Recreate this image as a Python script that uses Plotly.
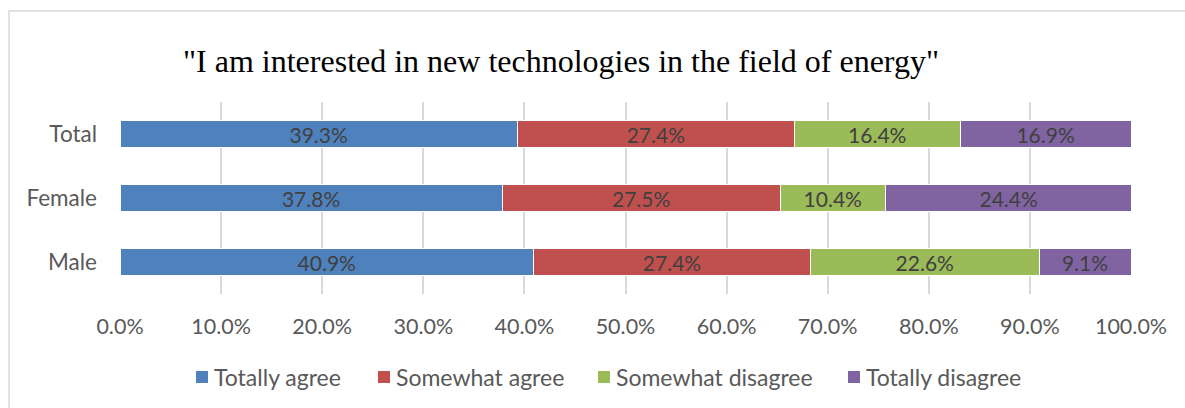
import plotly.graph_objects as go

# Survey responses by group (percent of respondents)
groups = ["Male", "Female", "Total"]
series_names = ["Totally agree", "Somewhat agree", "Somewhat disagree", "Totally disagree"]
totally_agree = [40.9, 37.8, 39.3]
somewhat_agree = [27.4, 27.5, 27.4]
somewhat_disagree = [22.6, 10.4, 16.4]
totally_disagree = [9.1, 24.4, 16.9]
tick_values = [0, 10, 20, 30, 40, 50, 60, 70, 80, 90, 100]

series_values = [totally_agree, somewhat_agree, somewhat_disagree, totally_disagree]
colors = ["#4F81BD", "#C0504D", "#9BBB59", "#8064A2"]

W, H = 1185, 408
L, R, T, B = 120, 54, 102, 114
plot_w = W - L - R
plot_h = H - T - B
FONT = "Lato, Open Sans, sans-serif"

fig = go.Figure()
for name, vals, col in zip(series_names, series_values, colors):
    fig.add_trace(go.Bar(
        y=groups, x=vals, name=name, orientation="h",
        marker=dict(color=col, line=dict(color="white", width=1)),
        width=0.41,
        text=[f"{v:.1f}%" for v in vals],
        textposition="inside", insidetextanchor="middle",
        textfont=dict(family=FONT, size=21, color="#404040"),
        constraintext="none",
        showlegend=False,
    ))

def px_x(p):
    return (p - L) / plot_w

def px_y(p):
    return (H - B - p) / plot_h

fig.update_layout(
    width=W, height=H,
    barmode="stack",
    margin=dict(l=L, r=R, t=T, b=B),
    paper_bgcolor="white", plot_bgcolor="white",
    title=dict(
        text='"I am interested in new technologies in the field of energy"',
        x=561 / W, xanchor="center", xref="container",
        y=1 - 61 / H, yanchor="middle", yref="container",
        font=dict(family="Liberation Serif, Times New Roman, serif", size=32, color="#000000"),
    ),
    xaxis=dict(
        range=[0, 100], tickvals=tick_values,
        ticktext=[f"{v:.1f}%" for v in tick_values],
        showgrid=True, gridcolor="#D9D9D9", gridwidth=1.5,
        zeroline=False, showline=False,
        tickfont=dict(family=FONT, size=21.5, color="#595959"),
        ticks="", ticklabelstandoff=17,
    ),
    yaxis=dict(
        range=[-0.5, 2.5], showgrid=False, zeroline=False, showline=False,
        tickfont=dict(family=FONT, size=22.5, color="#595959"),
        ticks="", ticklabelstandoff=22,
    ),
    uniformtext=dict(mode=False),
)

# Legend: colour keys and labels laid out in one row below the axis
legend_key_x = [196, 378, 598, 848]
for name, col, kx in zip(series_names, colors, legend_key_x):
    fig.add_shape(
        type="rect", xref="paper", yref="paper",
        x0=px_x(kx), x1=px_x(kx + 12), y0=px_y(383), y1=px_y(371),
        line=dict(width=0), fillcolor=col,
    )
    fig.add_annotation(
        text=name, xref="paper", yref="paper",
        x=px_x(kx + 16), y=px_y(377), xanchor="left", yanchor="middle",
        showarrow=False, font=dict(family=FONT, size=23, color="#595959"),
    )

# Light frame around the chart area
fig.add_shape(
    type="rect", xref="paper", yref="paper",
    x0=px_x(9), x1=px_x(1195), y0=px_y(420), y1=px_y(11),
    line=dict(color="#D9D9D9", width=1.5), fillcolor="rgba(0,0,0,0)", layer="below",
)

fig.write_html("out.html")
